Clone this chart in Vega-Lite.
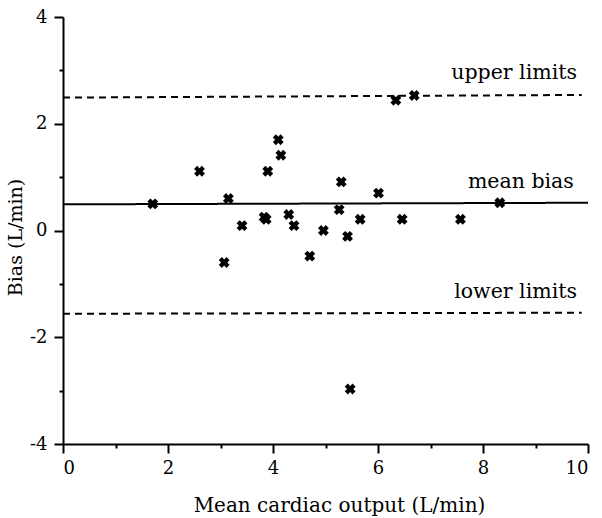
{
  "$schema": "https://vega.github.io/schema/vega-lite/v6.json",
  "width": 525,
  "height": 427,
  "autosize": "none",
  "padding": {"left": 63, "top": 17, "right": 14, "bottom": 74},
  "background": "white",
  "config": {
    "view": {"stroke": null},
    "font": "DejaVu Serif",
    "axis": {
      "grid": false,
      "domainColor": "black",
      "domainWidth": 2,
      "tickColor": "black",
      "tickWidth": 2,
      "labelColor": "black",
      "labelFont": "DejaVu Serif",
      "labelFontSize": 18,
      "labelExpr": "replace(datum.label, '\u2212', '-')",
      "titleColor": "black",
      "titleFont": "DejaVu Serif",
      "titleFontSize": 19,
      "titleFontWeight": "normal"
    }
  },
  "resolve": {"axis": {"x": "independent", "y": "independent"}},
  "layer": [
    {
      "data": {"values": [
        {"line": "upper", "x": 0, "x2": 9.88, "y": 2.49, "y2": 2.54},
        {"line": "mean", "x": 0, "x2": 10, "y": 0.49, "y2": 0.52},
        {"line": "lower", "x": 0, "x2": 9.88, "y": -1.56, "y2": -1.54}
      ]},
      "mark": {"type": "rule", "color": "black", "strokeWidth": 2},
      "encoding": {
        "x": {"field": "x", "type": "quantitative", "scale": {"domain": [0, 10], "nice": false, "zero": false},
          "axis": {"orient": "bottom", "values": [1, 3, 5, 7, 9], "labels": false, "domain": false, "tickSize": 4, "title": null}},
        "x2": {"field": "x2"},
        "y": {"field": "y", "type": "quantitative", "scale": {"domain": [-4, 4], "nice": false, "zero": false},
          "axis": {"orient": "left", "values": [-3, -1, 1, 3], "labels": false, "domain": false, "tickSize": 4, "title": null}},
        "y2": {"field": "y2"},
        "strokeDash": {"field": "line", "type": "nominal",
          "scale": {"domain": ["upper", "mean", "lower"], "range": [[7, 5], [1, 0], [7, 5]]}, "legend": null}
      }
    },
    {
      "data": {"values": [
        {"mean": 1.71, "bias": 0.5},
        {"mean": 2.6, "bias": 1.11},
        {"mean": 3.15, "bias": 0.6},
        {"mean": 3.07, "bias": -0.6},
        {"mean": 3.41, "bias": 0.09},
        {"mean": 3.83, "bias": 0.25},
        {"mean": 3.87, "bias": 0.21},
        {"mean": 3.9, "bias": 1.11},
        {"mean": 4.1, "bias": 1.7},
        {"mean": 4.15, "bias": 1.41},
        {"mean": 4.3, "bias": 0.3},
        {"mean": 4.4, "bias": 0.09},
        {"mean": 4.7, "bias": -0.48},
        {"mean": 4.96, "bias": 0.0},
        {"mean": 5.26, "bias": 0.39},
        {"mean": 5.3, "bias": 0.91},
        {"mean": 5.42, "bias": -0.11},
        {"mean": 5.47, "bias": -2.97},
        {"mean": 5.66, "bias": 0.21},
        {"mean": 6.01, "bias": 0.7},
        {"mean": 6.34, "bias": 2.44},
        {"mean": 6.46, "bias": 0.21},
        {"mean": 6.69, "bias": 2.53},
        {"mean": 7.57, "bias": 0.21},
        {"mean": 8.32, "bias": 0.52}
      ]},
      "mark": {"type": "point", "shape": "cross", "angle": 45, "filled": true, "color": "black", "size": 120, "opacity": 1},
      "encoding": {
        "x": {"field": "mean", "type": "quantitative",
          "axis": {"orient": "bottom", "values": [0, 2, 4, 6, 8, 10], "tickSize": 9, "labelPadding": 6, "title": "Mean cardiac output (L/min)", "titlePadding": 18, "titleFontSize": 20, "titleX": 276}},
        "y": {"field": "bias", "type": "quantitative",
          "axis": {"orient": "left", "values": [-4, -2, 0, 2, 4], "tickSize": 9, "labelPadding": 7, "title": "Bias (L/min)", "titlePadding": 4, "titleY": 220}}
      }
    },
    {
      "data": {"values": [
        {"label": "upper limits", "x": 9.79, "y": 2.95},
        {"label": "mean bias", "x": 9.73, "y": 0.9},
        {"label": "lower limits", "x": 9.79, "y": -1.16}
      ]},
      "mark": {"type": "text", "align": "right", "baseline": "middle", "font": "DejaVu Serif", "fontSize": 20.5, "color": "black"},
      "encoding": {
        "x": {"field": "x", "type": "quantitative", "axis": null},
        "y": {"field": "y", "type": "quantitative", "axis": null},
        "text": {"field": "label"}
      }
    }
  ]
}
